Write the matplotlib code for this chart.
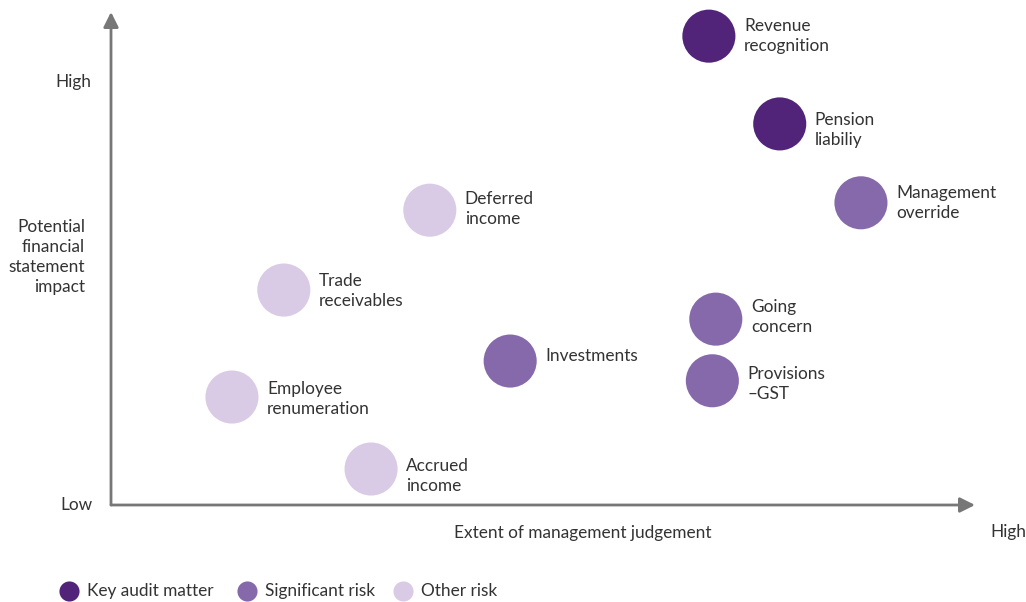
import matplotlib
matplotlib.use("Agg")
import matplotlib.pyplot as plt

plt.rcParams['font.family'] = ['Lato', 'DejaVu Sans']

# Data (0-100 scale on each axis)
labels = ["Revenue\nrecognition", "Pension\nliabiliy", "Management\noverride",
          "Deferred\nincome", "Trade\nreceivables", "Going\nconcern",
          "Investments", "Provisions\n\u2013GST", "Employee\nrenumeration",
          "Accrued\nincome"]
judgement = [69.2, 77.4, 86.8, 36.9, 20.0, 70.0, 46.2, 69.6, 14.0, 30.1]
impact = [95.1, 77.3, 61.3, 59.8, 43.6, 37.7, 29.2, 25.2, 21.9, 7.3]
category = ["Key audit matter", "Key audit matter", "Significant risk",
            "Other risk", "Other risk", "Significant risk", "Significant risk",
            "Significant risk", "Other risk", "Other risk"]
categories = ["Key audit matter", "Significant risk", "Other risk"]
colors = {"Key audit matter": "#512479", "Significant risk": "#8669AB",
          "Other risk": "#D9CBE5"}

# Layout (pixels)
label_dy = [0, -6, 0, 1, -1, 2, 5, -3, -2, -7]   # vertical nudge of labels
legend_x = [69, 247, 403]
legend_y = 591

W, H = 1026, 602
fig = plt.figure(figsize=(W / 100, H / 100), dpi=100)
ax = fig.add_axes([111 / W, (H - 505) / H, 864 / W, 493 / H])
ax.set_xlim(0, 100)
ax.set_ylim(0, 100)
ax.axis('off')

text_color = "#333333"
axis_color = "#777777"
fs = 12.4

# Axis arrows
for tip in [(1.0, 0), (0, 1.0)]:
    ax.annotate("", xy=tip, xytext=(0, 0), xycoords='axes fraction',
                arrowprops=dict(arrowstyle="-|>,head_length=0.9,head_width=0.45",
                                color=axis_color, lw=2, shrinkA=0, shrinkB=0),
                annotation_clip=False)

# Bubbles
ax.scatter(judgement, impact, s=1460, c=[colors[c] for c in category],
           linewidths=0, clip_on=False, zorder=3)

# Bubble labels
for x, y, lab, dy in zip(judgement, impact, labels, label_dy):
    ax.annotate(lab, xy=(x, y), xytext=(35, dy), textcoords='offset pixels',
                ha='left', va='center', fontsize=fs, color=text_color,
                linespacing=1.33, annotation_clip=False)

# Axis texts
fig.text(91 / W, 1 - 82 / H, "High", ha='right', va='center', fontsize=fs, color=text_color)
fig.text(85 / W, 1 - 257 / H, "Potential\nfinancial\nstatement\nimpact", ha='right',
         va='center', fontsize=fs, color=text_color, linespacing=1.33, multialignment='right')
fig.text(92 / W, 1 - 505 / H, "Low", ha='right', va='center', fontsize=fs, color=text_color)
fig.text(583 / W, 1 - 533 / H, "Extent of management judgement", ha='center',
         va='center', fontsize=fs, color=text_color)
fig.text(1008 / W, 1 - 532 / H, "High", ha='center', va='center', fontsize=fs, color=text_color)

# Legend (manual placement)
lax = fig.add_axes([0, 0, 1, 1])
lax.set_xlim(0, W)
lax.set_ylim(H, 0)
lax.axis('off')
for lx, cat in zip(legend_x, categories):
    lax.scatter([lx], [legend_y], s=210, color=colors[cat], linewidths=0)
    lax.text(lx + 18, legend_y, cat, ha='left', va='center', fontsize=fs,
             color=text_color)

fig.savefig("out.png", dpi=100)
